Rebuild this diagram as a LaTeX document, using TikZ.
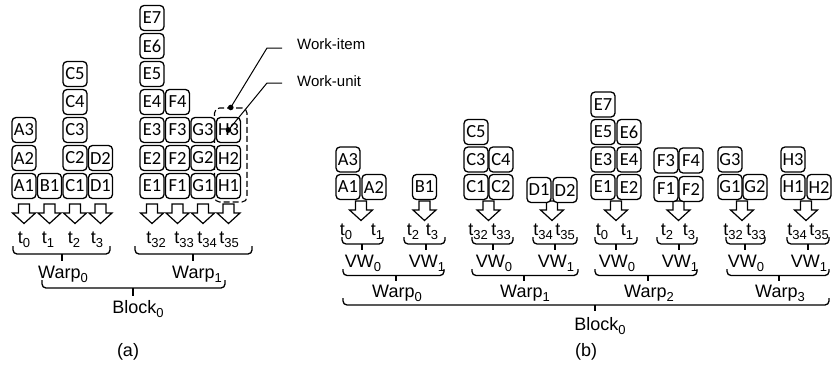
\documentclass[tikz,border=0pt]{standalone}
\usepackage{fontspec}
\setmainfont{Liberation Sans}
\newfontfamily\boxfont{Carlito}
% lowered, smaller index used in t_i, Warp_i, VW_i, Block_i
\newcommand\lo[1]{\raisebox{-4.5pt}{\fontsize{13}{13}\selectfont #1}}
% flat bracket: x-left, x-right, x-stem, y of raised ends, y of bar, y of stem end
\newcommand\flatbrace[6]{%
  \draw[bracket] (#1,#4) -- (#1,#5) -- (#2,#5) -- (#2,#4);
  \draw[bracket] (#3,#5) -- (#3,#6);}
\tikzset{
  item/.style={draw, line width=1.3pt, rounded corners=4pt, fill=white,
    minimum width=24pt, minimum height=25pt, inner sep=0pt,
    font=\boxfont\fontsize{18.5}{18.5}\selectfont},
  lbl/.style={anchor=base, inner sep=0pt, font=\fontsize{18}{18}\selectfont},
  call/.style={anchor=base west, inner sep=0pt, font=\fontsize{15}{15}\selectfont},
  bracket/.style={line width=1.3pt, rounded corners=4pt},
  unitbox/.style={draw, line width=1.1pt, dash pattern=on 6pt off 3pt,
    rounded corners=5pt, minimum width=32.5pt, minimum height=94pt, inner sep=0pt},
  pics/downarrow/.style={code={
    \draw[line width=1.2pt, fill=white, line join=miter]
      (-5.5,0) -- (5.5,0) -- (5.5,9) -- (11.5,9) -- (0,19.5)
      -- (-11.5,9) -- (-5.5,9) -- cycle;}}
}
\begin{document}
\begin{tikzpicture}[x=1pt, y=-1pt]
\useasboundingbox (0,0) rectangle (832,367);

% ---------------- (a) ----------------
% work-unit outline around column H
\node[unitbox] (unit) at (230.75,155) {};

% arrows from each column to its thread
\foreach \x in {24,49.5,75,100.5,152,177.5,203,228.5}
  \pic at (\x,204) {downarrow};

% work-items, stacked per column
\foreach \n/\x/\r in {A1/24/1, A2/24/2, A3/24/3, B1/49.5/1,
    C1/75/1, C2/75/2, C3/75/3, C4/75/4, C5/75/5, D1/100.5/1, D2/100.5/2,
    E1/152/1, E2/152/2, E3/152/3, E4/152/4, E5/152/5, E6/152/6, E7/152/7,
    F1/177.5/1, F2/177.5/2, F3/177.5/3, F4/177.5/4,
    G1/203/1, G2/203/2, G3/203/3, H1/228.5/1, H2/228.5/2, H3/228.5/3}
  \node[item] (a\n) at (\x,{186-28*(\r-1)}) {\n};

% callouts
\coordinate (k1) at (267,48);  \coordinate (e1) at (282,48);
\coordinate (k2) at (267,83);  \coordinate (e2) at (282,83);
\fill (unit.north) circle (2.8);
\fill (aH3.center) circle (2.8);
\draw[line width=1pt] (unit.north) -- (k1) -- (e1);
\draw[line width=1pt] (aH3.center) -- (k2) -- (e2);
\node[call] (witem) at (297,49) {Work-item};
\node[call] (wunit) at (297,86) {Work-unit};

% thread labels
\foreach \x/\s [count=\i] in {24/0,48/1,74/2,97/3,156/32,184/33,207/34,229/35}
  \node[lbl] (at\i) at (\x,243) {t\lo{\s}};

\flatbrace{13}{110}{62}{246}{254}{261}
\flatbrace{135}{252}{193}{246}{254}{261}
\node[lbl] (aw0) at (63,278) {Warp\lo{0}};
\node[lbl] (aw1) at (197,278) {Warp\lo{1}};
\flatbrace{42}{225}{133}{280}{288}{296}
\node[lbl] (ablk) at (138,313) {Block\lo{0}};
\node[lbl] (acap) at (128,356) {(a)};

% ---------------- (b) ----------------
\foreach \x in {361,424.5,488.5,552,616,678.5,742,806}
  \pic at (\x,201) {downarrow};

\foreach \n/\x/\y in {A1/348/187, A2/374/187, A3/348/159.5, B1/424.5/187,
    C1/476/187, C2/501/187, C3/476/159.5, C4/501/159.5, C5/476/132,
    D1/539/190, D2/565/190,
    E1/603/187, E2/629/187, E3/603/159.5, E4/629/159.5, E5/603/132,
    E6/629/132, E7/603/104.5,
    F1/666/189, F2/691/189, F3/666/160.5, F4/691/160.5,
    G1/730/187, G2/755/187, G3/730/159.5,
    H1/793/187, H2/819/187, H3/793/159.5}
  \node[item] (b\n) at (\x,\y) {\n};

\foreach \x/\s [count=\i] in {346/0,377/1,413/2,432/3,478/32,501/33,543/34,565/35,
    602/0,627/1,667/2,689/3,733/32,756/33,797/34,819/35}
  \node[lbl] (bt\i) at (\x,235) {t\lo{\s}};

% virtual-warp brackets and labels
\foreach \l/\r/\m/\s [count=\i] in {342/383/362/0, 404/445/426/1, 472/513/493/0,
    533/577/555/1, 595/637/616/0, 657/697/679/1, 726/765/745/0, 787/829/808/1} {
  \flatbrace{\l}{\r}{\m}{237}{244}{250}
  \node[lbl] (bvw\i) at (\m+1,267) {VW\lo{\s}};
}

% warp brackets and labels
\foreach \l/\r/\m/\s in {343/444/396/0, 472/578/524/1, 595/697/648/2, 727/829/779/3} {
  \flatbrace{\l}{\r}{\m}{269}{275.5}{281}
  \node[lbl] (bw\s) at (\m+1,297) {Warp\lo{\s}};
}

\flatbrace{343}{829}{595}{298}{305}{311}
\node[lbl] (bblk) at (600,330) {Block\lo{0}};
\node[lbl] (bcap) at (586,356) {(b)};
\end{tikzpicture}
\end{document}
